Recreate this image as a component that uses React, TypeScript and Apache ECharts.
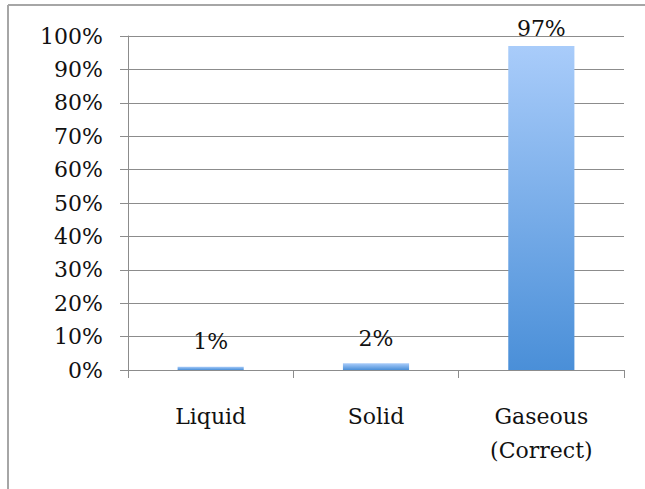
import React, { useEffect, useRef } from "react";
import * as echarts from "echarts";

const categories = ["Liquid", "Solid", "Gaseous\n(Correct)"];
const values = [1, 2, 97];
const yTicks = [0, 10, 20, 30, 40, 50, 60, 70, 80, 90, 100];

const FONT = "DejaVu Serif";

export default function App() {
  const ref = useRef<HTMLDivElement>(null);
  useEffect(() => {
    if (!ref.current) return;
    const chart = echarts.init(ref.current, undefined, { renderer: "svg" });
    chart.setOption({
      animation: false,
      backgroundColor: "#ffffff",
      graphic: [
        { type: "line", shape: { x1: 8, y1: 5, x2: 645, y2: 5 }, style: { stroke: "#a6a6a6", lineWidth: 2 } },
        { type: "line", shape: { x1: 8, y1: 5, x2: 8, y2: 489 }, style: { stroke: "#a6a6a6", lineWidth: 2 } },
      ],
      grid: { left: 128, top: 36, right: 21, bottom: 119, containLabel: false },
      xAxis: {
        type: "category",
        data: categories,
        axisLine: { show: true, lineStyle: { color: "#8c8c8c", width: 1 } },
        axisTick: { show: true, length: 8, alignWithLabel: false, lineStyle: { color: "#8c8c8c" } },
        axisLabel: { color: "#111", fontFamily: FONT, fontSize: 22, margin: 29, lineHeight: 34 },
      },
      yAxis: {
        type: "value",
        min: 0,
        max: yTicks[yTicks.length - 1],
        interval: yTicks[1] - yTicks[0],
        axisLine: { show: true, lineStyle: { color: "#8c8c8c", width: 1 } },
        axisTick: { show: true, length: 8, lineStyle: { color: "#8c8c8c" } },
        splitLine: { show: true, lineStyle: { color: "#8c8c8c", width: 1 } },
        axisLabel: { color: "#111", fontFamily: FONT, fontSize: 22, margin: 25, formatter: (v: number) => v + "%" },
      },
      series: [
        {
          type: "bar",
          data: values.map((v) => ({ value: v, label: { distance: v > 90 ? 7 : 14 } })),
          barWidth: "40%",
          itemStyle: {
            color: new echarts.graphic.LinearGradient(0, 0, 0, 1, [
              { offset: 0, color: "#a9ccfa" },
              { offset: 1, color: "#4a8fd8" },
            ]),
          },
          label: {
            show: true,
            position: "top",
            color: "#111",
            fontFamily: FONT,
            fontSize: 22,
            formatter: (p: any) => p.value + "%",
          },
        },
      ],
    });
    return () => chart.dispose();
  }, []);
  return <div ref={ref} style={{ position: "fixed", left: 0, top: 0, width: 645, height: 489 }} />;
}
